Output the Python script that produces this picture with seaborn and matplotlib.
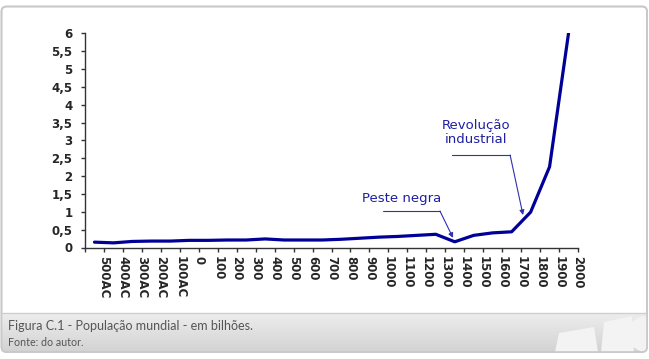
import numpy as np
import pandas as pd
import matplotlib.pyplot as plt
import seaborn as sns
from matplotlib.patches import FancyBboxPatch, Polygon

# dados (bilhoes de pessoas)
periodos = ['500AC', '400AC', '300AC', '200AC', '100AC', '0', '100', '200', '300', '400',
            '500', '600', '700', '800', '900', '1000', '1100', '1200', '1300', '1400',
            '1500', '1600', '1700', '1800', '1900', '2000']
populacao = [0.15, 0.13, 0.17, 0.18, 0.18, 0.20, 0.20, 0.21, 0.21, 0.24,
             0.21, 0.21, 0.21, 0.23, 0.26, 0.29, 0.31, 0.34, 0.37, 0.16,
             0.34, 0.41, 0.44, 0.99, 2.26, 6.0]
y_ticks = [0, 0.5, 1, 1.5, 2, 2.5, 3, 3.5, 4, 4.5, 5, 5.5, 6]
y_labels = ['0', '0,5', '1', '1,5', '2', '2,5', '3', '3,5', '4', '4,5', '5', '5,5', '6']

sns.set_style("white")
plt.rcParams['font.family'] = ['DejaVu Sans']

W, H = 649, 359
fig = plt.figure(figsize=(W / 100, H / 100), dpi=100)

# fundo: moldura e faixa da legenda (coordenadas em pixels)
bg = fig.add_axes([0, 0, 1, 1], zorder=0)
bg.set_xlim(0, W)
bg.set_ylim(H, 0)
bg.axis('off')
frame = FancyBboxPatch((1.5, 6.5), 645.5, 345.5, boxstyle="round,pad=0,rounding_size=5",
                       facecolor='white', edgecolor='#c8c8c8', linewidth=1.2)
bg.add_patch(frame)
grad = np.linspace(0, 1, 60).reshape(-1, 1)
band = bg.imshow(grad, cmap=sns.blend_palette(['#ededed', '#d3d3d3'], as_cmap=True),
                 extent=(1.5, 647, 352, 313), aspect='auto', zorder=1)
band.set_clip_path(frame)
bg.plot([1.5, 647], [313, 313], color='#cfcfcf', lw=1, zorder=2)
shapes = [
    [(555, 352), (559, 333), (594, 327), (598, 352)],
    [(601, 352), (604, 322), (632, 316), (634, 352)],
]
for s in shapes:
    p = Polygon(s, closed=True, facecolor='#f3f3f3', edgecolor='none', zorder=2)
    p.set_clip_path(frame)
    bg.add_patch(p)
circ = plt.Circle((646, 334), 18, facecolor='#f3f3f3', edgecolor='none', zorder=2)
circ.set_clip_path(frame)
bg.add_patch(circ)
bg.add_patch(FancyBboxPatch((1.5, 6.5), 645.5, 345.5, boxstyle="round,pad=0,rounding_size=5",
                            facecolor='none', edgecolor='#c8c8c8', linewidth=1.2, zorder=3))

bg.text(8, 326, 'Figura C.1 - População mundial - em bilhões.', fontsize=9,
        family=['Lato', 'DejaVu Sans'], color='#555555', va='center', ha='left', zorder=4)
bg.text(8, 342, 'Fonte: do autor.', fontsize=7.7,
        family=['Lato', 'DejaVu Sans'], color='#555555', va='center', ha='left', zorder=4)

# grafico
ax = fig.add_axes([85 / W, 1 - 247.5 / H, (578 - 85) / W, (247.5 - 33.3) / H], zorder=5)
ax.patch.set_alpha(0)
df = pd.DataFrame({'pos': np.arange(len(periodos)), 'pop': populacao})
sns.lineplot(data=df, x='pos', y='pop', ax=ax, color='#000099', linewidth=2.3)

ax.set_xlim(-0.5, len(periodos) - 0.5)
ax.set_ylim(0, 6)
ax.set_yticks(y_ticks)
ax.set_yticklabels(y_labels, fontsize=8.5, fontweight='bold')
ax.set_xticks(np.arange(len(periodos)) + 0.5)
ax.set_xticklabels(periodos, rotation=-90, fontsize=8.5, fontweight='bold', va='top')
ax.set_xticks(np.arange(len(periodos) + 1) - 0.5, minor=True)
ax.tick_params(axis='x', which='both', length=3, width=1, direction='out', bottom=True,
               color='#333333', pad=3)
ax.tick_params(axis='y', length=3, width=1, direction='out', left=True, color='#333333', pad=6)
ax.set_xlabel('')
ax.set_ylabel('')
for side in ['top', 'right']:
    ax.spines[side].set_visible(False)
for side in ['left', 'bottom']:
    ax.spines[side].set_color('#333333')
    ax.spines[side].set_linewidth(1)

# anotacoes
txt_color = '#1f1fa3'
arrow = dict(arrowstyle='-|>', color='#3030b0', lw=0.8, mutation_scale=7, shrinkA=0, shrinkB=0)
ax.text(20.12, 3.22, 'Revolução\nindustrial', ha='center', va='center', fontsize=9.5,
        color=txt_color, linespacing=1.15)
ax.plot([18.86, 21.92], [2.59, 2.59], color='#3030b0', lw=0.8)
ax.annotate('', xy=(22.6, 0.91), xytext=(21.92, 2.59), arrowprops=arrow)

ax.text(16.22, 1.36, 'Peste negra', ha='center', va='center', fontsize=9.5, color=txt_color)
ax.plot([15.22, 18.22], [1.02, 1.02], color='#3030b0', lw=0.8)
ax.annotate('', xy=(18.91, 0.27), xytext=(18.22, 1.02), arrowprops=arrow)

fig.savefig('out.png', dpi=100)
